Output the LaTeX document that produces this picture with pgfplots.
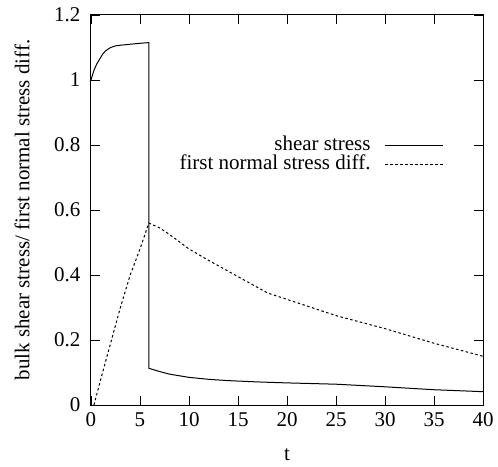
\documentclass[border=0pt]{standalone}
\usepackage{fontspec}
\setmainfont{Liberation Serif}
\usepackage{pgfplots}
\pgfplotsset{compat=1.18}
\newcommand{\ff}{\fontsize{21bp}{25bp}\selectfont}
\begin{document}
\begin{tikzpicture}
\begin{axis}[
  name=ax,
  scale only axis,
  width=392bp, height=390bp,
  xmin=0, xmax=40, ymin=0, ymax=1.2,
  xtick={0,5,...,40},
  ytick={0,0.2,0.4,0.6,0.8,1,1.2},
  /pgf/number format/assume math mode=true,
  tick label style={font=\ff},
  yticklabel style={xshift=-7bp},
  xticklabel style={yshift=-4bp},
  label style={font=\ff},
  xlabel={t},
  ylabel={bulk shear stress/ first normal stress diff.},
  xlabel style={at={(axis description cs:0.5,-0.128)}, anchor=center},
  ylabel style={at={(axis description cs:-0.176,0.5)}, anchor=center},
  major tick length=9bp,
  tick style={black, line width=0.8bp},
  axis line style={line width=1bp},
  legend style={at={(axis cs:36.3,0.835)}, anchor=north east, draw=none, fill=none, font=\ff, row sep=0bp, column sep=12bp,
    nodes={inner ysep=0.5bp, text height=14bp, text depth=4bp}},
  legend cell align=right,
  legend plot pos=right,
  legend image code/.code={\draw[#1] (0bp,0bp) -- (58bp,0bp);},
]
\addplot[black, line width=1bp] coordinates {
(0,1.0) (0.3,1.03) (0.6,1.05) (0.9,1.065) (1.2,1.08) (1.5,1.09) (2,1.1) (2.5,1.105) (3,1.107) (4,1.11) (5,1.113) (5.9,1.115)
(5.9,0.113) (7,0.103) (8,0.095) (10,0.085) (12,0.079) (14,0.075) (17,0.071) (20,0.068) (25,0.064) (30,0.056) (35,0.047) (40,0.041)
};
\addlegendentry{shear stress}
\addplot[black, line width=1bp, dash pattern=on 2.5bp off 2.5bp] coordinates {
(0.3,0) (1,0.08) (2,0.19) (3,0.30) (4,0.40) (5,0.48) (5.9,0.56) (7,0.545) (8,0.525) (10,0.48) (12,0.445) (15,0.395) (18,0.345) (20,0.325) (25,0.275) (30,0.235) (35,0.19) (40,0.15)
};
\addlegendentry{first normal stress diff.}
\end{axis}
\pgfresetboundingbox
\useasboundingbox ([xshift=-91bp,yshift=-62bp]ax.south west) rectangle ([xshift=15bp,yshift=15bp]ax.north east);
\end{tikzpicture}
\end{document}
